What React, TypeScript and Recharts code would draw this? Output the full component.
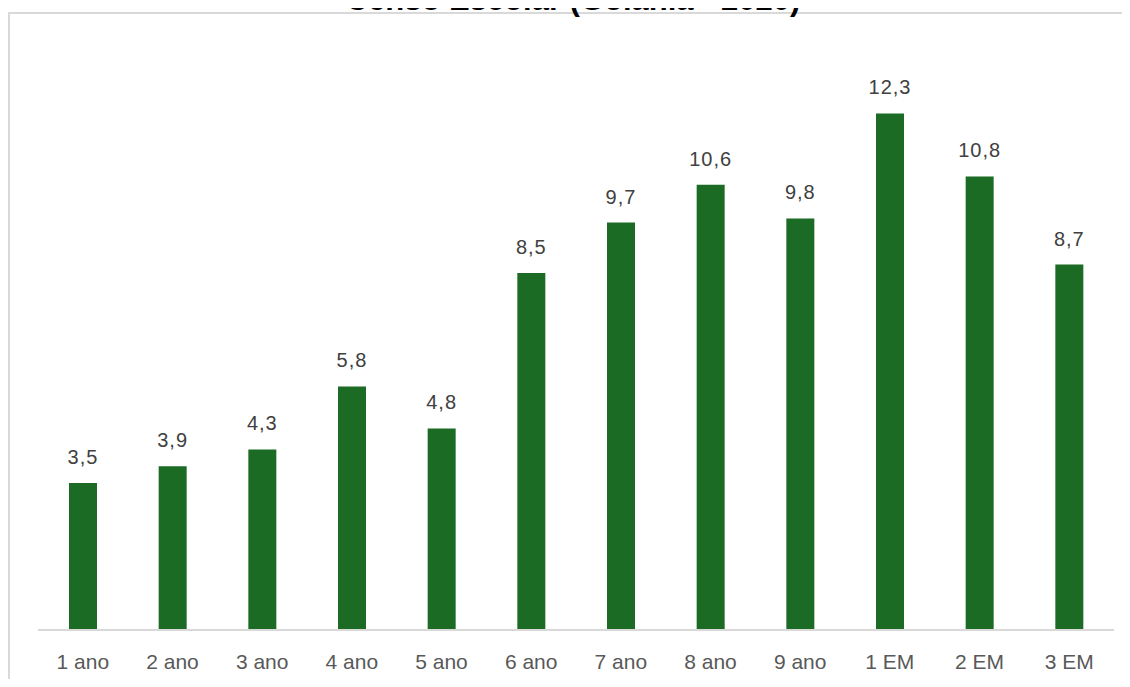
import { BarChart, Bar, XAxis, YAxis, LabelList } from 'recharts';

const categories = ['1 ano', '2 ano', '3 ano', '4 ano', '5 ano', '6 ano', '7 ano', '8 ano', '9 ano', '1 EM', '2 EM', '3 EM'];
const values = [3.5, 3.9, 4.3, 5.8, 4.8, 8.5, 9.7, 10.6, 9.8, 12.3, 10.8, 8.7];
const title = 'Censo Escolar (Goiânia - 2020)';

const data = categories.map((name, i) => ({ name, value: values[i] }));

const font = '"Liberation Sans", Arial, sans-serif';

const formatValue = (v: unknown) => String(v).replace('.', ',');

const App = () => {
  return (
    <div
      style={{
        position: 'relative',
        width: 1130,
        height: 687,
        margin: -8,
        overflow: 'hidden',
        background: '#fff',
        fontFamily: font,
      }}
    >
      {/* chart frame, runs off the right and bottom edges */}
      <div
        style={{
          position: 'absolute',
          left: 8,
          top: 12,
          width: 1200,
          height: 800,
          border: '2px solid #d9d9d9',
          boxSizing: 'border-box',
        }}
      />
      <svg width={1130} height={40} style={{ position: 'absolute', left: 0, top: 0 }}>
        <text
          x={573}
          y={10}
          textAnchor="middle"
          fontFamily={font}
          fontWeight="bold"
          fontSize={31}
          fill="#000"
        >
          {title}
        </text>
      </svg>
      <div style={{ position: 'absolute', left: 0, top: 0 }}>
        <BarChart
          width={1130}
          height={687}
          data={data}
          margin={{ top: 42, right: 16, bottom: 17, left: 38 }}
        >
          <XAxis
            dataKey="name"
            height={40}
            tickLine={false}
            tickSize={0}
            tickMargin={24}
            axisLine={{ stroke: '#d9d9d9', strokeWidth: 2 }}
            tick={{ fill: '#595959', fontSize: 21, fontFamily: font }}
            interval={0}
          />
          <YAxis hide width={0} domain={[0, 14]} />
          <Bar dataKey="value" fill="#1b6b25" barSize={28} isAnimationActive={false}>
            <LabelList
              dataKey="value"
              position="top"
              offset={19}
              formatter={formatValue}
              fill="#404040"
              fontSize={20}
              fontFamily={font}
              style={{ letterSpacing: 1 }}
            />
          </Bar>
        </BarChart>
      </div>
    </div>
  );
};

export default App;
